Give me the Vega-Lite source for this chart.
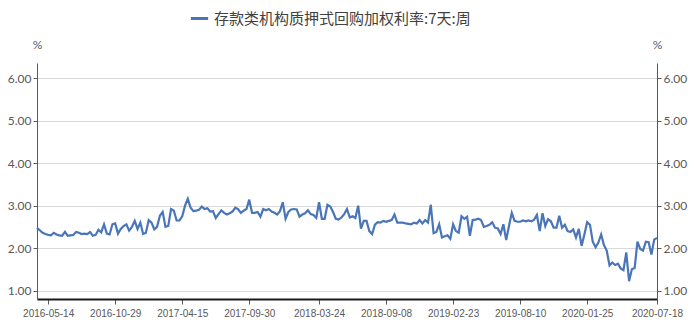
{
  "$schema": "https://vega.github.io/schema/vega-lite/v6.json",
  "autosize": {"type": "none"},
  "width": 620,
  "height": 236,
  "padding": {"left": 37, "top": 63, "right": 38, "bottom": 33},
  "background": "white",
  "config": {"view": {"stroke": null}},
  "data": {"values": [
    {"d":"2016-04-16","v":2.48},{"d":"2016-04-23","v":2.42},{"d":"2016-04-30","v":2.36},{"d":"2016-05-07","v":2.33},{"d":"2016-05-14","v":2.31},{"d":"2016-05-21","v":2.30},{"d":"2016-05-28","v":2.36},{"d":"2016-06-04","v":2.32},{"d":"2016-06-11","v":2.30},{"d":"2016-06-18","v":2.29},{"d":"2016-06-25","v":2.38},{"d":"2016-07-02","v":2.29},{"d":"2016-07-09","v":2.30},{"d":"2016-07-16","v":2.31},{"d":"2016-07-23","v":2.38},{"d":"2016-07-30","v":2.36},{"d":"2016-08-06","v":2.33},{"d":"2016-08-13","v":2.34},{"d":"2016-08-20","v":2.33},{"d":"2016-08-27","v":2.38},{"d":"2016-09-03","v":2.29},{"d":"2016-09-10","v":2.31},{"d":"2016-09-17","v":2.43},{"d":"2016-09-24","v":2.37},{"d":"2016-10-01","v":2.56},{"d":"2016-10-08","v":2.34},{"d":"2016-10-15","v":2.32},{"d":"2016-10-22","v":2.56},{"d":"2016-10-29","v":2.58},{"d":"2016-11-05","v":2.34},{"d":"2016-11-12","v":2.45},{"d":"2016-11-19","v":2.52},{"d":"2016-11-26","v":2.56},{"d":"2016-12-03","v":2.41},{"d":"2016-12-10","v":2.50},{"d":"2016-12-17","v":2.64},{"d":"2016-12-24","v":2.45},{"d":"2016-12-31","v":2.60},
    {"d":"2017-01-07","v":2.33},{"d":"2017-01-14","v":2.36},{"d":"2017-01-21","v":2.66},{"d":"2017-01-28","v":2.60},{"d":"2017-02-04","v":2.44},{"d":"2017-02-11","v":2.50},{"d":"2017-02-18","v":2.76},{"d":"2017-02-25","v":2.85},{"d":"2017-03-04","v":2.50},{"d":"2017-03-11","v":2.52},{"d":"2017-03-18","v":2.92},{"d":"2017-03-25","v":2.88},{"d":"2017-04-01","v":2.65},{"d":"2017-04-08","v":2.65},{"d":"2017-04-15","v":2.75},{"d":"2017-04-22","v":3.00},{"d":"2017-04-29","v":3.16},{"d":"2017-05-06","v":2.95},{"d":"2017-05-13","v":2.87},{"d":"2017-05-20","v":2.88},{"d":"2017-05-27","v":2.90},{"d":"2017-06-03","v":2.98},{"d":"2017-06-10","v":2.92},{"d":"2017-06-17","v":2.94},{"d":"2017-06-24","v":2.86},{"d":"2017-07-01","v":2.87},{"d":"2017-07-08","v":2.71},{"d":"2017-07-15","v":2.80},{"d":"2017-07-22","v":2.89},{"d":"2017-07-29","v":2.83},{"d":"2017-08-05","v":2.79},{"d":"2017-08-12","v":2.82},{"d":"2017-08-19","v":2.86},{"d":"2017-08-26","v":2.95},{"d":"2017-09-02","v":2.92},{"d":"2017-09-09","v":2.83},{"d":"2017-09-16","v":2.88},{"d":"2017-09-23","v":2.92},{"d":"2017-09-30","v":3.14},{"d":"2017-10-07","v":2.83},{"d":"2017-10-14","v":2.83},{"d":"2017-10-21","v":2.85},{"d":"2017-10-28","v":2.74},{"d":"2017-11-04","v":2.92},{"d":"2017-11-11","v":2.89},{"d":"2017-11-18","v":2.92},{"d":"2017-11-25","v":2.86},{"d":"2017-12-02","v":2.83},{"d":"2017-12-09","v":2.79},{"d":"2017-12-16","v":2.87},{"d":"2017-12-23","v":3.08},{"d":"2017-12-30","v":2.69},
    {"d":"2018-01-06","v":2.85},{"d":"2018-01-13","v":2.91},{"d":"2018-01-20","v":2.92},{"d":"2018-01-27","v":2.91},{"d":"2018-02-03","v":2.74},{"d":"2018-02-10","v":2.79},{"d":"2018-02-17","v":2.82},{"d":"2018-02-24","v":2.89},{"d":"2018-03-03","v":2.80},{"d":"2018-03-10","v":2.78},{"d":"2018-03-17","v":2.71},{"d":"2018-03-24","v":3.08},{"d":"2018-03-31","v":2.69},{"d":"2018-04-07","v":2.69},{"d":"2018-04-14","v":3.02},{"d":"2018-04-21","v":2.98},{"d":"2018-04-28","v":2.85},{"d":"2018-05-05","v":2.69},{"d":"2018-05-12","v":2.67},{"d":"2018-05-19","v":2.72},{"d":"2018-05-26","v":2.80},{"d":"2018-06-02","v":2.92},{"d":"2018-06-09","v":2.72},{"d":"2018-06-16","v":2.75},{"d":"2018-06-23","v":2.71},{"d":"2018-06-30","v":3.00},{"d":"2018-07-07","v":2.46},{"d":"2018-07-14","v":2.64},{"d":"2018-07-21","v":2.64},{"d":"2018-07-28","v":2.40},{"d":"2018-08-04","v":2.33},{"d":"2018-08-11","v":2.55},{"d":"2018-08-18","v":2.61},{"d":"2018-08-25","v":2.60},{"d":"2018-09-01","v":2.64},{"d":"2018-09-08","v":2.62},{"d":"2018-09-15","v":2.64},{"d":"2018-09-22","v":2.66},{"d":"2018-09-29","v":2.79},{"d":"2018-10-06","v":2.60},{"d":"2018-10-13","v":2.60},{"d":"2018-10-20","v":2.60},{"d":"2018-10-27","v":2.58},{"d":"2018-11-03","v":2.57},{"d":"2018-11-10","v":2.56},{"d":"2018-11-17","v":2.60},{"d":"2018-11-24","v":2.58},{"d":"2018-12-01","v":2.66},{"d":"2018-12-08","v":2.58},{"d":"2018-12-15","v":2.66},{"d":"2018-12-22","v":2.60},{"d":"2018-12-29","v":3.02},
    {"d":"2019-01-05","v":2.35},{"d":"2019-01-12","v":2.38},{"d":"2019-01-19","v":2.56},{"d":"2019-01-26","v":2.25},{"d":"2019-02-02","v":2.28},{"d":"2019-02-09","v":2.30},{"d":"2019-02-16","v":2.22},{"d":"2019-02-23","v":2.56},{"d":"2019-03-02","v":2.40},{"d":"2019-03-09","v":2.36},{"d":"2019-03-16","v":2.75},{"d":"2019-03-23","v":2.69},{"d":"2019-03-30","v":2.74},{"d":"2019-04-06","v":2.29},{"d":"2019-04-13","v":2.66},{"d":"2019-04-20","v":2.67},{"d":"2019-04-27","v":2.69},{"d":"2019-05-04","v":2.66},{"d":"2019-05-11","v":2.50},{"d":"2019-05-18","v":2.52},{"d":"2019-05-25","v":2.55},{"d":"2019-06-01","v":2.61},{"d":"2019-06-08","v":2.48},{"d":"2019-06-15","v":2.46},{"d":"2019-06-22","v":2.33},{"d":"2019-06-29","v":2.56},{"d":"2019-07-06","v":2.19},{"d":"2019-07-13","v":2.52},{"d":"2019-07-20","v":2.83},{"d":"2019-07-27","v":2.64},{"d":"2019-08-03","v":2.62},{"d":"2019-08-10","v":2.62},{"d":"2019-08-17","v":2.65},{"d":"2019-08-24","v":2.63},{"d":"2019-08-31","v":2.65},{"d":"2019-09-07","v":2.63},{"d":"2019-09-14","v":2.67},{"d":"2019-09-21","v":2.78},{"d":"2019-09-28","v":2.40},{"d":"2019-10-05","v":2.82},{"d":"2019-10-12","v":2.52},{"d":"2019-10-19","v":2.68},{"d":"2019-10-26","v":2.63},{"d":"2019-11-02","v":2.48},{"d":"2019-11-09","v":2.48},{"d":"2019-11-16","v":2.76},{"d":"2019-11-23","v":2.48},{"d":"2019-11-30","v":2.55},{"d":"2019-12-07","v":2.40},{"d":"2019-12-14","v":2.38},{"d":"2019-12-21","v":2.44},{"d":"2019-12-28","v":2.25},
    {"d":"2020-01-04","v":2.45},{"d":"2020-01-11","v":2.05},{"d":"2020-01-18","v":2.32},{"d":"2020-01-25","v":2.61},{"d":"2020-02-01","v":2.55},{"d":"2020-02-08","v":2.15},{"d":"2020-02-15","v":2.02},{"d":"2020-02-22","v":2.13},{"d":"2020-02-29","v":2.32},{"d":"2020-03-07","v":2.07},{"d":"2020-03-14","v":1.94},{"d":"2020-03-21","v":1.59},{"d":"2020-03-28","v":1.66},{"d":"2020-04-04","v":1.60},{"d":"2020-04-11","v":1.63},{"d":"2020-04-18","v":1.52},{"d":"2020-04-25","v":1.48},{"d":"2020-05-02","v":1.90},{"d":"2020-05-09","v":1.22},{"d":"2020-05-16","v":1.50},{"d":"2020-05-23","v":1.53},{"d":"2020-05-30","v":2.15},{"d":"2020-06-06","v":1.98},{"d":"2020-06-13","v":1.94},{"d":"2020-06-20","v":2.15},{"d":"2020-06-27","v":2.14},{"d":"2020-07-04","v":1.85},{"d":"2020-07-11","v":2.20},{"d":"2020-07-18","v":2.24}
  ]},
  "transform": [{"calculate": "'存款类机构质押式回购加权利率:7天:周'", "as": "series"}],
  "encoding": {
    "x": {
      "field": "d", "type": "temporal",
      "scale": {"type": "utc", "domain": [{"year": 2016, "month": 4, "date": 16, "utc": true}, {"year": 2020, "month": 7, "date": 18, "utc": true}]},
      "axis": {
        "title": null,
        "format": "%Y-%m-%d",
        "values": [
          {"year": 2016, "month": 5, "date": 14, "utc": true},
          {"year": 2016, "month": 10, "date": 29, "utc": true},
          {"year": 2017, "month": 4, "date": 15, "utc": true},
          {"year": 2017, "month": 9, "date": 30, "utc": true},
          {"year": 2018, "month": 3, "date": 24, "utc": true},
          {"year": 2018, "month": 9, "date": 8, "utc": true},
          {"year": 2019, "month": 2, "date": 23, "utc": true},
          {"year": 2019, "month": 8, "date": 10, "utc": true},
          {"year": 2020, "month": 1, "date": 25, "utc": true},
          {"year": 2020, "month": 7, "date": 18, "utc": true}
        ],
        "grid": false,
        "domainColor": "#1a1a1a", "domainWidth": 2,
        "tickColor": "#595959", "tickSize": 5,
        "labelFont": "Liberation Sans", "labelFontSize": 10, "labelColor": "#595959",
        "labelPadding": 4, "labelOverlap": false, "labelFlush": false
      }
    }
  },
  "layer": [
    {
      "mark": {"type": "line", "strokeWidth": 2.2, "interpolate": "linear"},
      "encoding": {
        "y": {
          "field": "v", "type": "quantitative",
          "scale": {"domain": [0.8, 6.36], "nice": false, "zero": false},
          "axis": {
            "orient": "left", "values": [1, 2, 3, 4, 5, 6], "format": ".2f",
            "title": "%", "titleAngle": 0, "titleX": 0, "titleY": -19,
            "titleAlign": "center", "titleBaseline": "middle",
            "titleFont": "Lato", "titleFontSize": 12, "titleFontWeight": "normal", "titleColor": "#595959",
            "grid": true, "gridColor": "#d9d9d9", "gridWidth": 1,
            "domainColor": "#595959", "domainWidth": 1,
            "tickColor": "#595959", "tickSize": 4,
            "labelFont": "Lato", "labelFontSize": 12, "labelColor": "#595959", "labelPadding": 2
          }
        },
        "color": {
          "field": "series", "type": "nominal",
          "scale": {"range": ["#4a76b8"]},
          "legend": {
            "title": null, "orient": "none", "legendX": 152, "legendY": -55,
            "symbolType": "stroke", "symbolStrokeWidth": 3, "symbolSize": 300,
            "labelFont": "Noto Sans CJK SC", "labelFontSize": 15, "labelColor": "#404040",
            "labelLimit": 400
          }
        }
      }
    },
    {
      "mark": {"type": "line", "strokeWidth": 2, "opacity": 0},
      "encoding": {
        "y": {
          "field": "v", "type": "quantitative",
          "scale": {"domain": [0.8, 6.36], "nice": false, "zero": false},
          "axis": {
            "orient": "right", "values": [1, 2, 3, 4, 5, 6], "format": ".2f",
            "title": "%", "titleAngle": 0, "titleX": 0, "titleY": -19,
            "titleAlign": "center", "titleBaseline": "middle",
            "titleFont": "Lato", "titleFontSize": 12, "titleFontWeight": "normal", "titleColor": "#595959",
            "grid": false,
            "domainColor": "#595959", "domainWidth": 1,
            "tickColor": "#595959", "tickSize": 4,
            "labelFont": "Lato", "labelFontSize": 12, "labelColor": "#595959", "labelPadding": 2
          }
        }
      }
    }
  ],
  "resolve": {"scale": {"y": "shared"}, "axis": {"y": "independent"}}
}
